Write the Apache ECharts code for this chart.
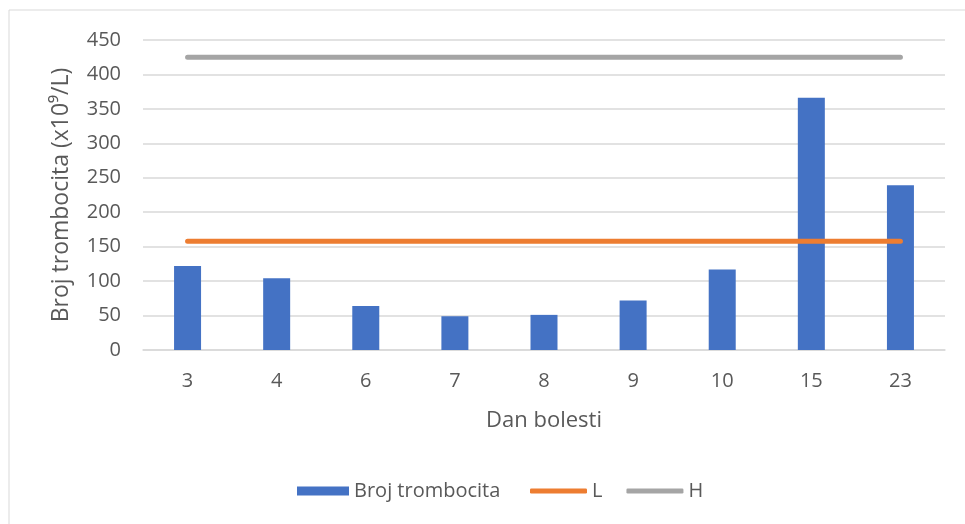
<!DOCTYPE html>
<html>
<head>
<meta charset="utf-8">
<script src="https://cdn.jsdelivr.net/npm/echarts@6/dist/echarts.min.js"></script>
<style>
  body { margin: 0; background: #fff; }
  #chart { width: 965px; height: 524px; }
</style>
</head>
<body>
<div id="chart"></div>
<script>
  // podaci sa slike
  var days = ['3', '4', '6', '7', '8', '9', '10', '15', '23'];
  var platelets = [122, 104, 64, 49, 51, 72, 117, 366, 239];
  var lowLimit = [158, 158, 158, 158, 158, 158, 158, 158, 158];
  var highLimit = [425, 425, 425, 425, 425, 425, 425, 425, 425];
  var yTicks = [0, 450, 50];

  var font = '"Open Sans", "Noto Sans", sans-serif';
  var grey = '#595959';

  var myChart = echarts.init(document.getElementById('chart'));

  var option = {
    animation: false,
    textStyle: { fontFamily: font, color: grey },
    graphic: [
      { type: 'line', shape: { x1: 9, y1: 10, x2: 965, y2: 10 }, style: { stroke: '#d9d9d9', lineWidth: 1 } },
      { type: 'line', shape: { x1: 9, y1: 10, x2: 9, y2: 524 }, style: { stroke: '#d9d9d9', lineWidth: 1 } }
    ],
    grid: { left: 143, right: 20, top: 40, bottom: 174 },
    // dvije legende: pravokutnik za stupce, tanke crte za L i H
    legend: [
      {
        top: 476,
        left: 292,
        itemWidth: 52,
        itemHeight: 9,
        textStyle: { fontFamily: font, fontSize: 20, color: grey },
        data: [{ name: 'Broj trombocita', icon: 'rect' }]
      },
      {
        top: 476,
        left: 525,
        itemWidth: 57,
        itemHeight: 5,
        itemGap: 24,
        textStyle: { fontFamily: font, fontSize: 20, color: grey },
        data: [{ name: 'L', icon: 'roundRect' }, { name: 'H', icon: 'roundRect' }]
      }
    ],
    xAxis: {
      type: 'category',
      data: days,
      name: 'Dan bolesti',
      nameLocation: 'middle',
      nameGap: 60,
      nameTextStyle: { fontFamily: font, fontSize: 22, color: grey },
      axisLine: { lineStyle: { color: '#d9d9d9', width: 1.5 } },
      axisTick: { show: false },
      axisLabel: { fontFamily: font, fontSize: 20, color: grey, margin: 21 }
    },
    yAxis: {
      type: 'value',
      min: yTicks[0],
      max: yTicks[1],
      interval: yTicks[2],
      name: 'Broj trombocita (x10⁹/L)',
      nameLocation: 'middle',
      nameRotate: 90,
      nameGap: 70,
      nameTextStyle: { fontFamily: font, fontSize: 23, color: grey },
      axisLine: { show: false },
      axisTick: { show: false },
      axisLabel: { fontFamily: font, fontSize: 20, color: grey, margin: 22 },
      splitLine: { lineStyle: { color: '#d9d9d9', width: 1.5 } }
    },
    series: [
      {
        name: 'Broj trombocita',
        type: 'bar',
        data: platelets,
        barWidth: 27,
        itemStyle: { color: '#4472c4' }
      },
      {
        name: 'L',
        type: 'line',
        data: lowLimit,
        symbol: 'none',
        lineStyle: { color: '#ed7d31', width: 5, cap: 'round' },
        itemStyle: { color: '#ed7d31' }
      },
      {
        name: 'H',
        type: 'line',
        data: highLimit,
        symbol: 'none',
        lineStyle: { color: '#a5a5a5', width: 5, cap: 'round' },
        itemStyle: { color: '#a5a5a5' }
      }
    ]
  };

  myChart.setOption(option);
</script>
</body>
</html>
